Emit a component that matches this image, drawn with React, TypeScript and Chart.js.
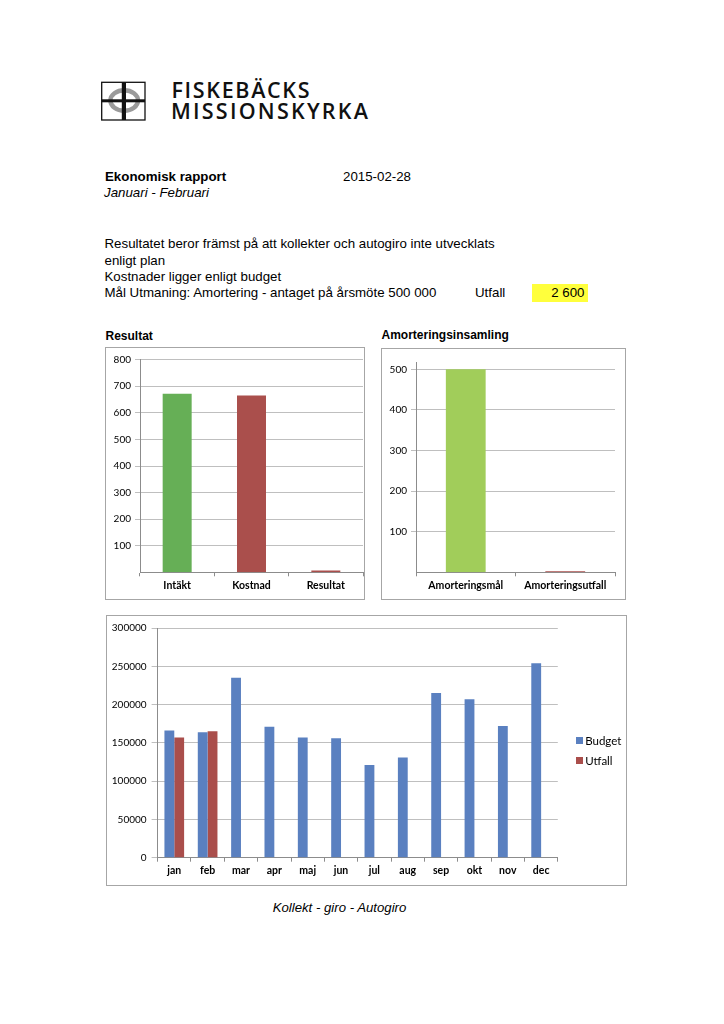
import React, { useEffect, useRef } from "react";
import { Chart, registerables } from "chart.js";

Chart.register(...registerables);

// ---------- data ----------
const resultatCategories = ["Intäkt", "Kostnad", "Resultat"];
const resultatValues = [672, 665, 7];
const resultatColors = ["#66AF56", "#AA4F4C", "#AA4F4C"];
const resultatMax = 800;
const resultatTicks = [100, 200, 300, 400, 500, 600, 700, 800];

const amorteringCategories = ["Amorteringsmål", "Amorteringsutfall"];
const amorteringValues = [500, 2.6];
const amorteringColors = ["#A1CD5A", "#AA4F4C"];
const amorteringMax = 518;
const amorteringTicks = [100, 200, 300, 400, 500];

const months = ["jan", "feb", "mar", "apr", "maj", "jun", "jul", "aug", "sep", "okt", "nov", "dec"];
const budgetValues = [166000, 164000, 235000, 171000, 157000, 156000, 121000, 131000, 215000, 207000, 172000, 254000];
const utfallValues: (number | null)[] = [157000, 165000, null, null, null, null, null, null, null, null, null, null];
const monthlyMax = 300000;
const monthlyTicks = [0, 50000, 100000, 150000, 200000, 250000, 300000];
const seriesNames = ["Budget", "Utfall"];
const seriesColors = ["#5A80C0", "#AA4E4B"];

// ---------- styles ----------
const GRID = "#bfbfbf";
const AXIS = "#8c8c8c";
const CHART_FONT = "Lato, 'Open Sans', sans-serif";
const TEXT_FONT = "'Liberation Sans', Arial, Helvetica, sans-serif";

function yScale(max: number, tickValues: number[], width: number, tickLen: number, pad: number) {
  return {
    min: 0,
    max,
    afterBuildTicks: (s: any) => {
      s.ticks = tickValues.map((v) => ({ value: v }));
    },
    afterFit: (s: any) => {
      s.width = width;
    },
    ticks: {
      font: { family: CHART_FONT, size: 10 },
      color: "#000",
      padding: pad,
      callback: (v: any) => String(v),
    },
    grid: { color: GRID, tickLength: tickLen, tickColor: GRID },
    border: { color: AXIS },
  };
}

function xScale(height: number, pad: number) {
  return {
    afterFit: (s: any) => {
      s.height = height;
    },
    ticks: {
      font: { family: CHART_FONT, size: 10.5, weight: "bold" },
      color: "#000",
      padding: pad,
      maxRotation: 0,
      autoSkip: false,
    },
    grid: { offset: true, drawOnChartArea: false, drawTicks: true, tickLength: 4, color: AXIS },
    border: { color: AXIS },
  };
}

function ChartBox(props: { left: number; top: number; width: number; height: number; make: () => any; children?: any }) {
  const ref = useRef<HTMLCanvasElement>(null);
  useEffect(() => {
    const chart = new Chart(ref.current as HTMLCanvasElement, props.make());
    return () => chart.destroy();
  }, []);
  const { left, top, width, height } = props;
  return (
    <>
      <div
        style={{
          position: "absolute",
          left,
          top,
          width,
          height,
          boxSizing: "border-box",
          border: "1px solid #a6a6a6",
        }}
      />
      <div style={{ position: "absolute", left, top, width, height }}>
        <canvas ref={ref} />
        {props.children}
      </div>
    </>
  );
}

const resultatConfig = () => ({
  type: "bar",
  data: {
    labels: resultatCategories,
    datasets: [
      {
        data: resultatValues,
        backgroundColor: resultatColors,
        borderWidth: 0,
        barPercentage: 0.39,
        categoryPercentage: 1,
      },
    ],
  },
  options: {
    responsive: true,
    maintainAspectRatio: false,
    animation: false,
    layout: { padding: { top: 12.7, right: 2, left: 0, bottom: 0 } },
    plugins: { legend: { display: false }, tooltip: { enabled: false } },
    scales: {
      x: xScale(27.7, 3),
      y: yScale(resultatMax, resultatTicks, 35, 5, 4),
    },
  },
});

const amorteringConfig = () => ({
  type: "bar",
  data: {
    labels: amorteringCategories,
    datasets: [
      {
        data: amorteringValues,
        backgroundColor: amorteringColors,
        borderWidth: 0,
        barPercentage: 0.4,
        categoryPercentage: 1,
      },
    ],
  },
  options: {
    responsive: true,
    maintainAspectRatio: false,
    animation: false,
    layout: { padding: { top: 14, right: 11, left: 0, bottom: 0 } },
    plugins: { legend: { display: false }, tooltip: { enabled: false } },
    scales: {
      x: xScale(27.7, 3),
      y: yScale(amorteringMax, amorteringTicks, 35, 5, 4),
    },
  },
});

const monthlyConfig = () => ({
  type: "bar",
  data: {
    labels: months,
    datasets: [
      {
        label: seriesNames[0],
        data: budgetValues,
        backgroundColor: seriesColors[0],
        borderWidth: 0,
        barPercentage: 1,
        categoryPercentage: 0.59,
      },
      {
        label: seriesNames[1],
        data: utfallValues,
        backgroundColor: seriesColors[1],
        borderWidth: 0,
        barPercentage: 1,
        categoryPercentage: 0.59,
      },
    ],
  },
  options: {
    responsive: true,
    maintainAspectRatio: false,
    animation: false,
    layout: { padding: { top: 13, right: 69.2, left: 0, bottom: 0 } },
    plugins: { tooltip: { enabled: false }, legend: { display: false } },
    scales: {
      x: xScale(28.3, 3),
      y: yScale(monthlyMax, monthlyTicks, 51.6, 6, 5),
    },
  },
});

function Legend() {
  return (
    <div style={{ position: "absolute", left: 469.7, top: 118.5, fontFamily: CHART_FONT, fontSize: 11.5, color: "#000" }}>
      {seriesNames.map((n, i) => (
        <div key={n} style={{ position: "relative", height: 20, lineHeight: "14px" }}>
          <span
            style={{
              position: "absolute",
              left: 0,
              top: 3.5,
              width: 7,
              height: 7,
              background: seriesColors[i],
            }}
          />
          <span style={{ position: "absolute", left: 9.5, top: 0, whiteSpace: "nowrap" }}>{n}</span>
        </div>
      ))}
    </div>
  );
}

export default function App() {
  return (
    <div
      style={{
        position: "absolute",
        left: 0,
        top: 0,
        width: 724,
        height: 1024,
        background: "#fff",
        overflow: "hidden",
      }}
    >
      <svg
        width={724}
        height={1024}
        style={{ position: "absolute", left: 0, top: 0 }}
        xmlns="http://www.w3.org/2000/svg"
      >
        {/* logo */}
        <rect x={101.7} y={82.3} width={43.3} height={37.7} fill="none" stroke="#111" strokeWidth={1.3} />
        <ellipse cx={124.2} cy={100.5} rx={13.8} ry={10.3} fill="none" stroke="#9a9a9a" strokeWidth={4.4} />
        <rect x={121.8} y={82.3} width={4.2} height={37.7} fill="#111" />
        <rect x={101.7} y={99.3} width={43.3} height={3} fill="#111" />
        <text
          x={171.5}
          y={97.5}
          textLength={138}
          lengthAdjust="spacing"
          style={{ fontFamily: "'Open Sans', Lato, sans-serif", fontWeight: 600, fontSize: 21.5 }}
          fill="#111"
        >
          FISKEBÄCKS
        </text>
        <text
          x={171}
          y={118.5}
          textLength={197}
          lengthAdjust="spacing"
          style={{ fontFamily: "'Open Sans', Lato, sans-serif", fontWeight: 600, fontSize: 21.5 }}
          fill="#111"
        >
          MISSIONSKYRKA
        </text>

        {/* header */}
        <g style={{ fontFamily: TEXT_FONT, fontSize: 13.3 }} fill="#000">
          <text x={105} y={180.7} fontWeight="bold">
            Ekonomisk rapport
          </text>
          <text x={343} y={180.7}>
            2015-02-28
          </text>
          <text x={104} y={196.7} fontStyle="italic">
            Januari - Februari
          </text>
          <text x={104.5} y={248.3}>
            Resultatet beror främst på att kollekter och autogiro inte utvecklats
          </text>
          <text x={104.5} y={264.6}>
            enligt plan
          </text>
          <text x={104.5} y={280.9}>
            Kostnader ligger enligt budget
          </text>
          <text x={104.5} y={297.3}>
            Mål Utmaning: Amortering - antaget på årsmöte 500 000
          </text>
          <text x={475} y={297.3}>
            Utfall
          </text>
          <rect x={532} y={284} width={56} height={18} fill="#FFFF3C" />
          <text x={584.5} y={297.3} textAnchor="end">
            2 600
          </text>
        </g>

        {/* section titles */}
        <g style={{ fontFamily: TEXT_FONT, fontSize: 12, fontWeight: "bold" }} fill="#000">
          <text x={105.5} y={340}>
            Resultat
          </text>
          <text x={381.5} y={339.3}>
            Amorteringsinsamling
          </text>
        </g>

        {/* caption */}
        <text x={272.7} y={912.3} style={{ fontFamily: TEXT_FONT, fontSize: 13.2, fontStyle: "italic" }} fill="#000">
          Kollekt - giro - Autogiro
        </text>
      </svg>

      <ChartBox left={105} top={347} width={260} height={253} make={resultatConfig} />
      <ChartBox left={381} top={348} width={245} height={252} make={amorteringConfig} />
      <ChartBox left={106} top={615} width={521} height={271} make={monthlyConfig}>
        <Legend />
      </ChartBox>
    </div>
  );
}
